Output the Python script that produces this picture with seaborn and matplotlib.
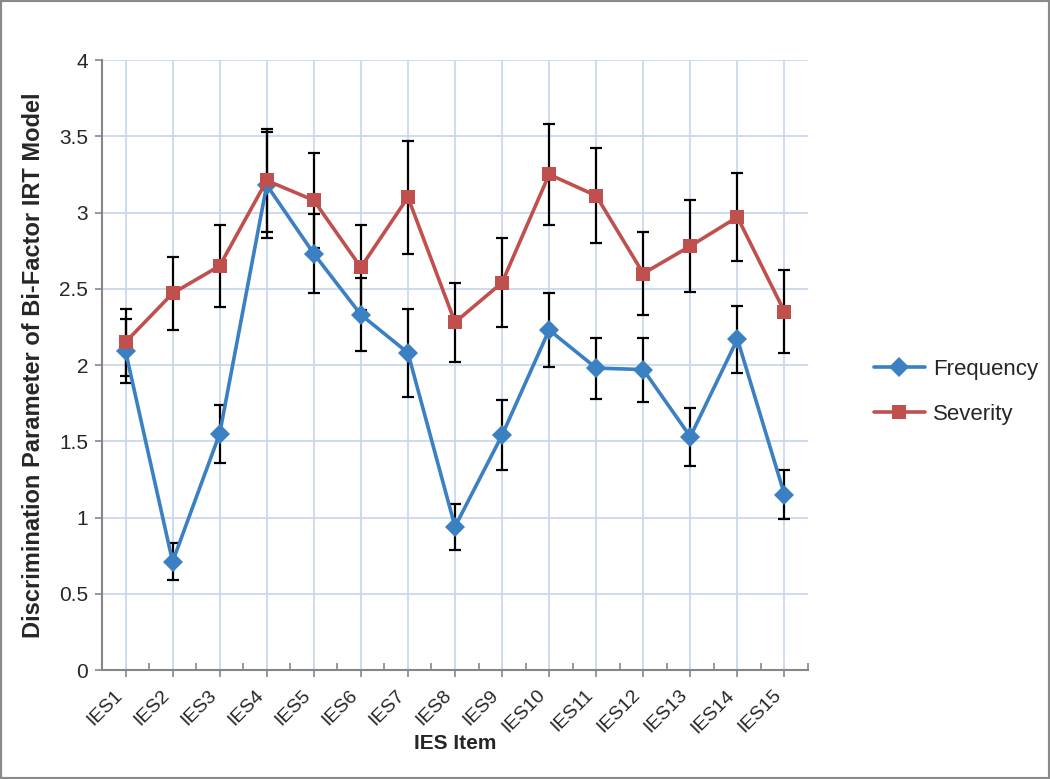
"""
Bi-factor IRT discrimination parameters per IES item, frequency vs severity, with error bars.
"""
import matplotlib
matplotlib.use("Agg")
import matplotlib.pyplot as plt
from matplotlib.patches import Rectangle
from matplotlib.ticker import FixedLocator
import seaborn as sns
import numpy as np
import pandas as pd

items = ["IES1", "IES2", "IES3", "IES4", "IES5", "IES6", "IES7", "IES8",
         "IES9", "IES10", "IES11", "IES12", "IES13", "IES14", "IES15"]
frequency = [2.09, 0.71, 1.55, 3.18, 2.73, 2.33, 2.08, 0.94,
             1.54, 2.23, 1.98, 1.97, 1.53, 2.17, 1.15]
frequency_err = [0.21, 0.12, 0.19, 0.35, 0.26, 0.24, 0.29, 0.15,
                 0.23, 0.24, 0.20, 0.21, 0.19, 0.22, 0.16]
severity = [2.15, 2.47, 2.65, 3.21, 3.08, 2.64, 3.10, 2.28,
            2.54, 3.25, 3.11, 2.60, 2.78, 2.97, 2.35]
severity_err = [0.22, 0.24, 0.27, 0.34, 0.31, 0.28, 0.37, 0.26,
                0.29, 0.33, 0.31, 0.27, 0.30, 0.29, 0.27]
y_ticks = [0, 0.5, 1, 1.5, 2, 2.5, 3, 3.5, 4]

series_names = ["Frequency", "Severity"]
colors = {"Frequency": "#3a80c2", "Severity": "#c0504d"}
markers = {"Frequency": "D", "Severity": "s"}

pos = np.arange(len(items))
df = pd.concat([
    pd.DataFrame({"pos": pos, "value": frequency, "err": frequency_err, "series": "Frequency"}),
    pd.DataFrame({"pos": pos, "value": severity, "err": severity_err, "series": "Severity"}),
])

sns.set_style("white")
plt.rcParams["font.family"] = ["Liberation Sans", "DejaVu Sans"]

fig = plt.figure(figsize=(10.5, 7.79), dpi=100)
ax = fig.add_axes([102 / 1050, 1 - 670 / 779, (808 - 102) / 1050, (670 - 60) / 779])

# error bars first so the markers sit on top of them
for name in series_names:
    d = df[df["series"] == name]
    ax.errorbar(d["pos"], d["value"], yerr=d["err"], fmt="none", ecolor="black",
                elinewidth=1.6, capsize=4.5, capthick=1.6, zorder=2)

sns.lineplot(data=df, x="pos", y="value", hue="series", style="series",
             palette=colors, markers=markers, dashes=False, sort=False,
             linewidth=2.6, markersize=10, markeredgewidth=0, ax=ax, zorder=3,
             legend=False)

ax.set_xlim(-0.5, len(items) - 0.5)
ax.set_ylim(0, 4)
ax.set_yticks(y_ticks)
ax.set_yticklabels([f"{v:g}" for v in y_ticks], fontsize=15)
ax.set_xticks(pos)
ax.set_xticklabels(items, rotation=45, ha="right", va="top", fontsize=14)
ax.xaxis.set_minor_locator(FixedLocator(np.arange(-0.5, len(items), 1.0)))

ax.grid(True, which="major", color="#c6d6ee", linewidth=1.2)
ax.set_axisbelow(True)
for s in ["top", "right"]:
    ax.spines[s].set_visible(False)
for s in ["left", "bottom"]:
    ax.spines[s].set_color("#868686")
    ax.spines[s].set_linewidth(1.5)
ax.tick_params(axis="y", which="major", direction="out", length=5, width=1.2,
               color="#868686", left=True, pad=5)
ax.tick_params(axis="x", which="major", direction="out", length=5, width=1.2,
               color="#868686", bottom=True, pad=7)
ax.tick_params(axis="x", which="minor", direction="in", length=5, width=1.2,
               color="#868686", bottom=True)

ax.set_xlabel("IES Item", fontsize=15, fontweight="bold")
ax.xaxis.set_label_coords(0.5, -0.105)
ax.set_ylabel("Discrimination Parameter of Bi-Factor IRT Model", fontsize=17,
              fontweight="bold", labelpad=10)

handles = [plt.Line2D([], [], color=colors[n], marker=markers[n], linewidth=2.6,
                      markersize=10, markeredgewidth=0) for n in series_names]
ax.legend(handles, series_names, loc="center left", bbox_to_anchor=(1.065, 0.456),
          frameon=False, fontsize=16, handlelength=2.3, handletextpad=0.35,
          labelspacing=1.1)

fig.patches.append(Rectangle((0, 0), 1, 1, transform=fig.transFigure, fill=False,
                             edgecolor="#8a8a8a", linewidth=3))

fig.savefig("out.png", dpi=100)
